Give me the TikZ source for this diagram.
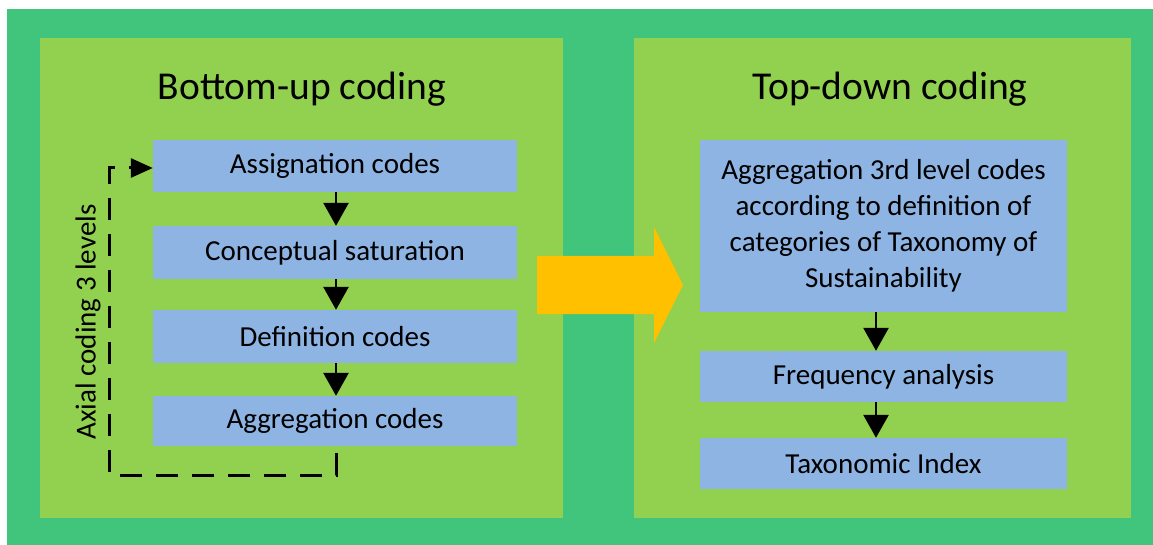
\documentclass[tikz,border=0pt]{standalone}
\usepackage{fontspec}
\setmainfont{Carlito}
\usetikzlibrary{arrows.meta}
\definecolor{outergreen}{HTML}{41C47B}
\definecolor{panelgreen}{HTML}{92D050}
\definecolor{boxblue}{HTML}{8EB4E3}
\definecolor{bigarrow}{HTML}{FFC000}
\tikzset{
  panel/.style={fill=panelgreen, draw=none},
  stepbox/.style={fill=boxblue, draw=none, inner sep=0pt, align=center,
    font=\fontsize{29}{36}\selectfont},
  title/.style={inner sep=0pt, font=\fontsize{39.5}{46}\selectfont},
  flow/.style={line width=2.8pt, -{Triangle[width=25pt,length=23pt]}},
  loopline/.style={line width=3pt, dash pattern=on 22pt off 14pt,
    -{Triangle[width=19pt,length=22pt]}}
}
\begin{document}
\begin{tikzpicture}[x=1pt,y=-1pt]
  \useasboundingbox (0,0) rectangle (1153,545);
  % background and the two panels
  \fill[outergreen] (7,9) rectangle (1153,545);
  \fill[panel] (40,38) rectangle (563,518);
  \fill[panel] (634,38) rectangle (1131,518);

  % left panel: bottom-up coding
  \node[title] (t1) at (302,89) {Bottom-up coding};
  \node[stepbox, minimum width=364pt, minimum height=52pt] (a1) at (335,166) {Assignation codes};
  \node[stepbox, minimum width=364pt, minimum height=53pt] (a2) at (335,252.5) {Conceptual saturation};
  \node[stepbox, minimum width=364pt, minimum height=53pt] (a3) at (335,336.5) {Definition codes};
  \node[stepbox, minimum width=364pt, minimum height=50pt] (a4) at (335,421) {Aggregation codes};
  \draw[flow] (a1.south -| 336,0) -- (a2.north -| 336,0);
  \draw[flow] (a2.south -| 336,0) -- (a3.north -| 336,0);
  \draw[flow] (a3.south -| 336,0) -- (a4.north -| 336,0);

  % axial coding feedback loop
  \coordinate (l0) at (336,453);
  \coordinate (l1) at (336,475);
  \coordinate (l2) at (109,475);
  \coordinate (l3) at (109,168);
  \draw[loopline] (l0) -- (l1) -- (l2) -- (l3) -- (a1.west |- l3);
  \node[rotate=90, inner sep=0pt, font=\fontsize{29}{34}\selectfont] (ax) at (88,322) {Axial coding 3 levels};

  % transfer arrow between the panels
  \fill[bigarrow] (537,256) -- (654,256) -- (654,227) -- (683,285)
    -- (654,343) -- (654,314) -- (537,314) -- cycle;

  % right panel: top-down coding
  \node[title] (t2) at (890,89) {Top-down coding};
  \node[stepbox, minimum width=367pt, minimum height=171pt] (b1) at (883.5,226)
    {Aggregation 3rd level codes\\according to definition of\\categories of Taxonomy of\\Sustainability};
  \node[stepbox, minimum width=367pt, minimum height=51pt] (b2) at (883.5,376.5) {Frequency analysis};
  \node[stepbox, minimum width=367pt, minimum height=51pt] (b3) at (883.5,463.5) {Taxonomic Index};
  \draw[flow] (b1.south -| 876,0) -- (b2.north -| 876,0);
  \draw[flow] (b2.south -| 876,0) -- (b3.north -| 876,0);
\end{tikzpicture}
\end{document}
